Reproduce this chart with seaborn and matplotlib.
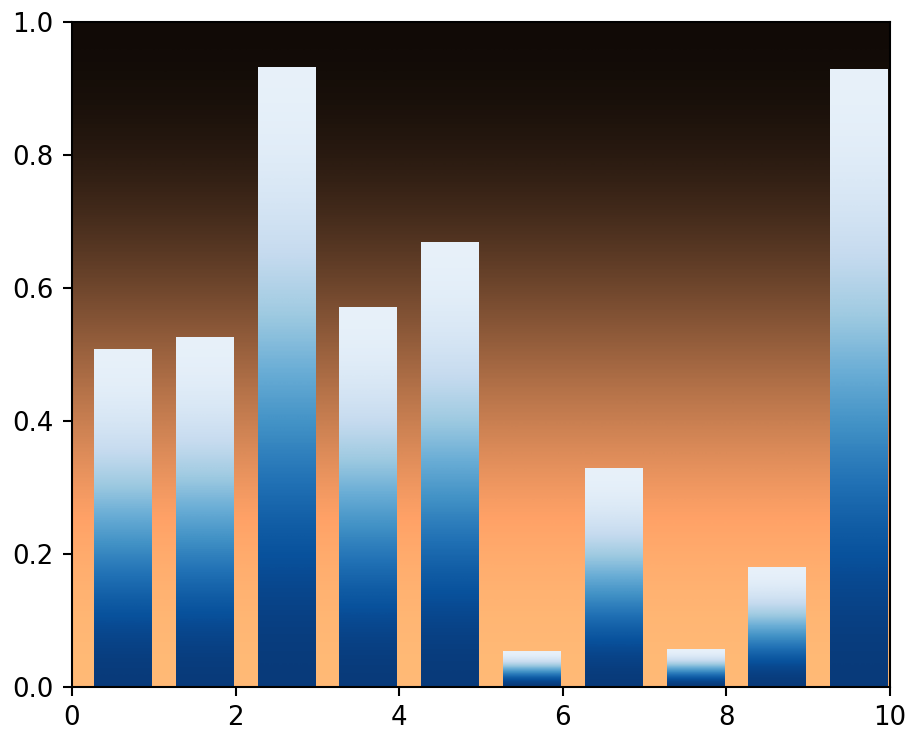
import numpy as np
import pandas as pd
import seaborn as sns
import matplotlib.pyplot as plt

# bar data
lefts = np.arange(10) + 0.27
heights = [0.507, 0.525, 0.931, 0.571, 0.669, 0.053, 0.328, 0.056, 0.180, 0.928]
xticks = [0, 2, 4, 6, 8, 10]
yticks = [0.0, 0.2, 0.4, 0.6, 0.8, 1.0]

sns.set_style("ticks", rc={"axes.edgecolor": "black", "xtick.color": "black",
                           "ytick.color": "black", "text.color": "black"})
plt.rcParams['font.family'] = ['DejaVu Sans']

dpi = 187
fig, ax = plt.subplots(figsize=(910 / dpi, 732 / dpi), dpi=dpi)
fig.subplots_adjust(left=0.079, right=0.978, top=0.970, bottom=0.0615)

df = pd.DataFrame({'x': lefts + 0.35, 'h': heights})
sns.barplot(data=df, x='x', y='h', native_scale=True, width=0.7,
            errorbar=None, ax=ax)

# background gradient (vertical, copper)
bg = np.array([[0.015, 0.015], [0.97, 0.97]])
ax.imshow(bg, cmap='copper', clim=(0, 1), interpolation='bicubic',
          extent=(0, 1, 0, 1), transform=ax.transAxes, aspect='auto', zorder=0)

# gradient fill for each bar
grad = np.array([[0.0, 0.0], [0.96, 0.96]])
for p in ax.patches:
    x0 = p.get_x()
    w = p.get_width()
    h = p.get_height()
    ax.imshow(grad, cmap='Blues_r', clim=(0, 1), interpolation='bicubic',
              origin='lower', extent=(x0, x0 + w, 0, h), aspect='auto', zorder=2)
    p.set_visible(False)

ax.set_xlim(0, 10)
ax.set_ylim(0, 1)
ax.set_xticks(xticks)
ax.set_xticklabels([str(t) for t in xticks])
ax.set_yticks(yticks)
ax.set_yticklabels([f"{t:.1f}" for t in yticks])
ax.set_xlabel('')
ax.set_ylabel('')
ax.tick_params(labelsize=10, length=3.5, width=0.8)
for s in ax.spines.values():
    s.set_linewidth(0.8)
    s.set_visible(True)
    s.set_zorder(5)

plt.savefig('out.png', dpi=dpi)
